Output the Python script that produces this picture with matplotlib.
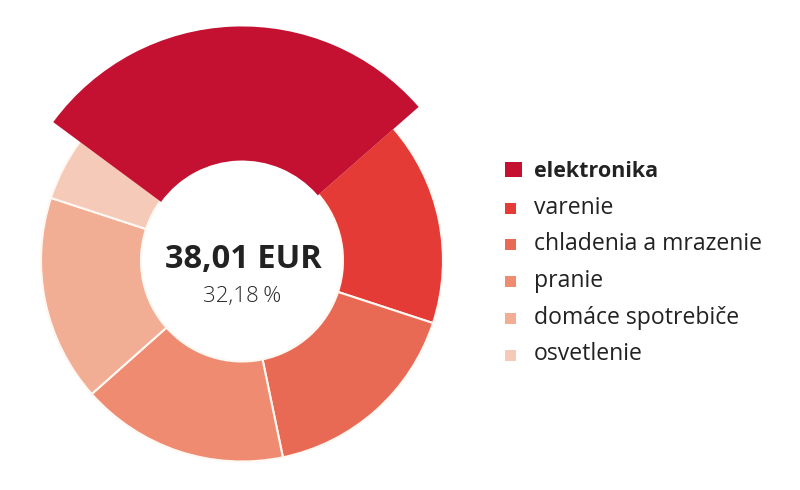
#!/usr/bin/env python3

import matplotlib
matplotlib.use("Agg")
import matplotlib.pyplot as plt
from matplotlib.patches import Rectangle

plt.rcParams['font.family'] = ['Open Sans', 'DejaVu Sans']

labels = ["elektronika", "varenie", "chladenia a mrazenie", "pranie",
          "domáce spotrebiče", "osvetlenie"]
shares = [28.4, 16.5, 16.7, 16.7, 16.6, 5.1]
colors = ["#C41131", "#E43B37", "#E86954", "#EE8B71", "#F2AD95", "#F6CAB8"]
center_value = "38,01 EUR"
center_share = "32,18\u2009%"
highlight = 0

W, H = 800, 490
fig = plt.figure(figsize=(W / 100, H / 100), dpi=100)
ax = fig.add_axes([0, 0, 1, 1])

cx, cy = 242, H - 260.5
r_out, r_in, r_big = 201, 101, 233

wedges, _ = ax.pie(shares, colors=colors, startangle=143.5, counterclock=False,
                   center=(cx, cy), radius=r_out, frame=True,
                   wedgeprops=dict(width=r_out - r_in, edgecolor="#FFF8F2",
                                   linewidth=1.5))
ax.set_xlim(0, W)
ax.set_ylim(0, H)
ax.set_aspect('equal')
ax.axis('off')

# the highlighted slice sticks out and hides the separators next to it
hw = wedges[highlight]
hw.set_radius(r_big)
hw.set_width(r_big - r_in)
hw.set_edgecolor(colors[highlight])
hw.set_linewidth(1.5)
hw.set_zorder(5)

ax.text(cx + 1, H - 268, center_value, ha='center', va='baseline',
        fontsize=23.5, fontweight='bold', color="#222222", zorder=6)
ax.text(cx, H - 302, center_share, ha='center', va='baseline',
        fontsize=16, fontweight='light', color="#2a2a2a", zorder=6)

# legend
x0, y0, step = 505, 177, 36.7
for i, (lab, col) in enumerate(zip(labels, colors)):
    base = H - (y0 + step * i)
    if i == highlight:
        w, h = 17, 15
    else:
        w, h = 11, 11
    ax.add_patch(Rectangle((x0, base), w, h, facecolor=col, edgecolor='none'))
    ax.text(534, base, lab, ha='left', va='baseline',
            fontsize=15.5 if i == highlight else 16.6,
            fontweight='bold' if i == highlight else 'normal', color="#222222")

fig.savefig("out.png", dpi=100)
